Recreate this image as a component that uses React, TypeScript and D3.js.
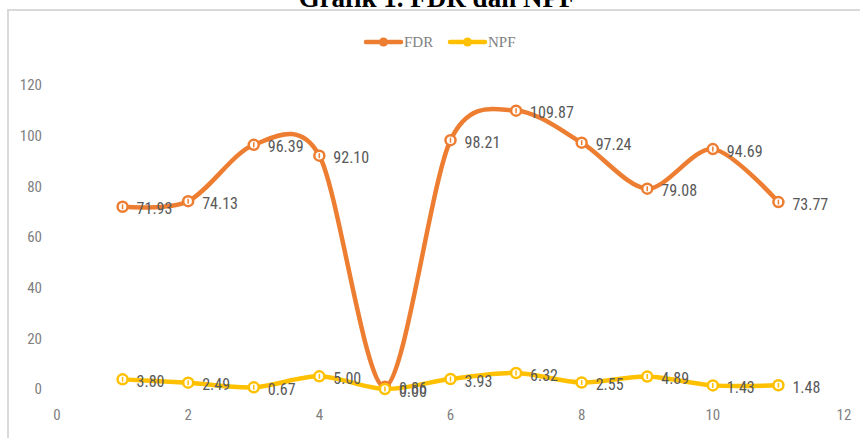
import React, { useEffect, useRef } from "react";
import * as d3 from "d3";

const xValues = [1, 2, 3, 4, 5, 6, 7, 8, 9, 10, 11];
const fdrValues = [71.93, 74.13, 96.39, 92.1, 0.86, 98.21, 109.87, 97.24, 79.08, 94.69, 73.77];
const npfValues = [3.8, 2.49, 0.67, 5.0, 0.0, 3.93, 6.32, 2.55, 4.89, 1.43, 1.48];
const xTicks = [0, 2, 4, 6, 8, 10, 12];
const yTicks = [0, 20, 40, 60, 80, 100, 120];
const seriesNames = ["FDR", "NPF"];

const W = 860;
const H = 438;
const COLORS = ["#ED7D31", "#FFC000"];
const FONT = "'Liberation Sans Narrow', 'Arial Narrow', 'Roboto Condensed', sans-serif";

export default function App() {
  const ref = useRef<SVGSVGElement | null>(null);

  useEffect(() => {
    document.body.style.margin = "0";
    const svg = d3.select(ref.current);
    svg.selectAll("*").remove();

    const x = d3.scaleLinear().domain([0, 12]).range([57, 844]);
    const y = d3.scaleLinear().domain([0, 120]).range([389, 85]);

    // frame
    svg.append("line").attr("x1", 7).attr("x2", W).attr("y1", 10).attr("y2", 10)
      .attr("stroke", "#D9D9D9").attr("stroke-width", 2);
    svg.append("line").attr("x1", 8).attr("x2", 8).attr("y1", 10).attr("y2", H)
      .attr("stroke", "#D9D9D9").attr("stroke-width", 2);

    // title (cut off at top)
    svg.append("text").attr("x", 437).attr("y", 7).attr("text-anchor", "middle")
      .attr("font-family", "'Liberation Serif', 'Times New Roman', serif")
      .attr("font-weight", "bold").attr("font-size", 27).attr("fill", "#000")
      .text("Grafik 1. FDR dan NPF");

    // y axis labels
    svg.append("g").selectAll("text").data(yTicks).join("text")
      .attr("x", 42).attr("y", (d) => y(d)).attr("dy", "0.35em")
      .attr("text-anchor", "end").attr("font-family", FONT).attr("font-size", 15)
      .attr("fill", "#7F7F7F").text((d) => String(d));

    // x axis labels
    svg.append("g").selectAll("text").data(xTicks).join("text")
      .attr("x", (d) => x(d)).attr("y", 415).attr("dy", "0.35em")
      .attr("text-anchor", "middle").attr("font-family", FONT).attr("font-size", 15)
      .attr("fill", "#7F7F7F").text((d) => String(d));

    const series = [fdrValues, npfValues];
    const line = d3.line<number>()
      .x((_, i) => x(xValues[i]))
      .y((d) => y(d))
      .curve(d3.curveCardinal.tension(0.1));

    series.forEach((vals, si) => {
      const g = svg.append("g");
      g.append("path").attr("d", line(vals) || "").attr("fill", "none")
        .attr("stroke", COLORS[si]).attr("stroke-width", 4.5)
        .attr("stroke-linecap", "round").attr("stroke-linejoin", "round");
      g.selectAll("circle").data(vals).join("circle")
        .attr("cx", (_, i) => x(xValues[i])).attr("cy", (d) => y(d)).attr("r", 5)
        .attr("fill", "#fff").attr("stroke", COLORS[si]).attr("stroke-width", 2.5);
      g.selectAll("line.tick").data(vals).join("line")
        .attr("x1", (_, i) => x(xValues[i])).attr("x2", (_, i) => x(xValues[i]))
        .attr("y1", (d) => y(d) - 2.5).attr("y2", (d) => y(d) + 2.5)
        .attr("stroke", COLORS[si]).attr("stroke-width", 1.5);
    });

    series.forEach((vals) => {
      svg.append("g").selectAll("text").data(vals).join("text")
        .attr("x", (_, i) => x(xValues[i]) + 14).attr("y", (d) => y(d) + 2).attr("dy", "0.35em")
        .attr("font-family", FONT).attr("font-size", 16).attr("fill", "#595959")
        .text((d) => d.toFixed(2));
    });

    // legend
    const legendItems = [
      { x: 366, tx: 404 },
      { x: 450, tx: 488 },
    ];
    legendItems.forEach((it, i) => {
      const g = svg.append("g");
      g.append("line").attr("x1", it.x).attr("x2", it.x + 35).attr("y1", 42).attr("y2", 42)
        .attr("stroke", COLORS[i]).attr("stroke-width", 4.5).attr("stroke-linecap", "round");
      g.append("circle").attr("cx", it.x + 17.5).attr("cy", 42).attr("r", 4.5)
        .attr("fill", COLORS[i]);
      g.append("text").attr("x", it.tx).attr("y", 42).attr("dy", "0.35em")
        .attr("font-family", "'Liberation Serif', 'Times New Roman', serif")
        .attr("font-size", 15).attr("fill", "#7F7F7F").text(seriesNames[i]);
    });
  }, []);

  return <svg ref={ref} width={W} height={H} style={{ display: "block" }} />;
}
